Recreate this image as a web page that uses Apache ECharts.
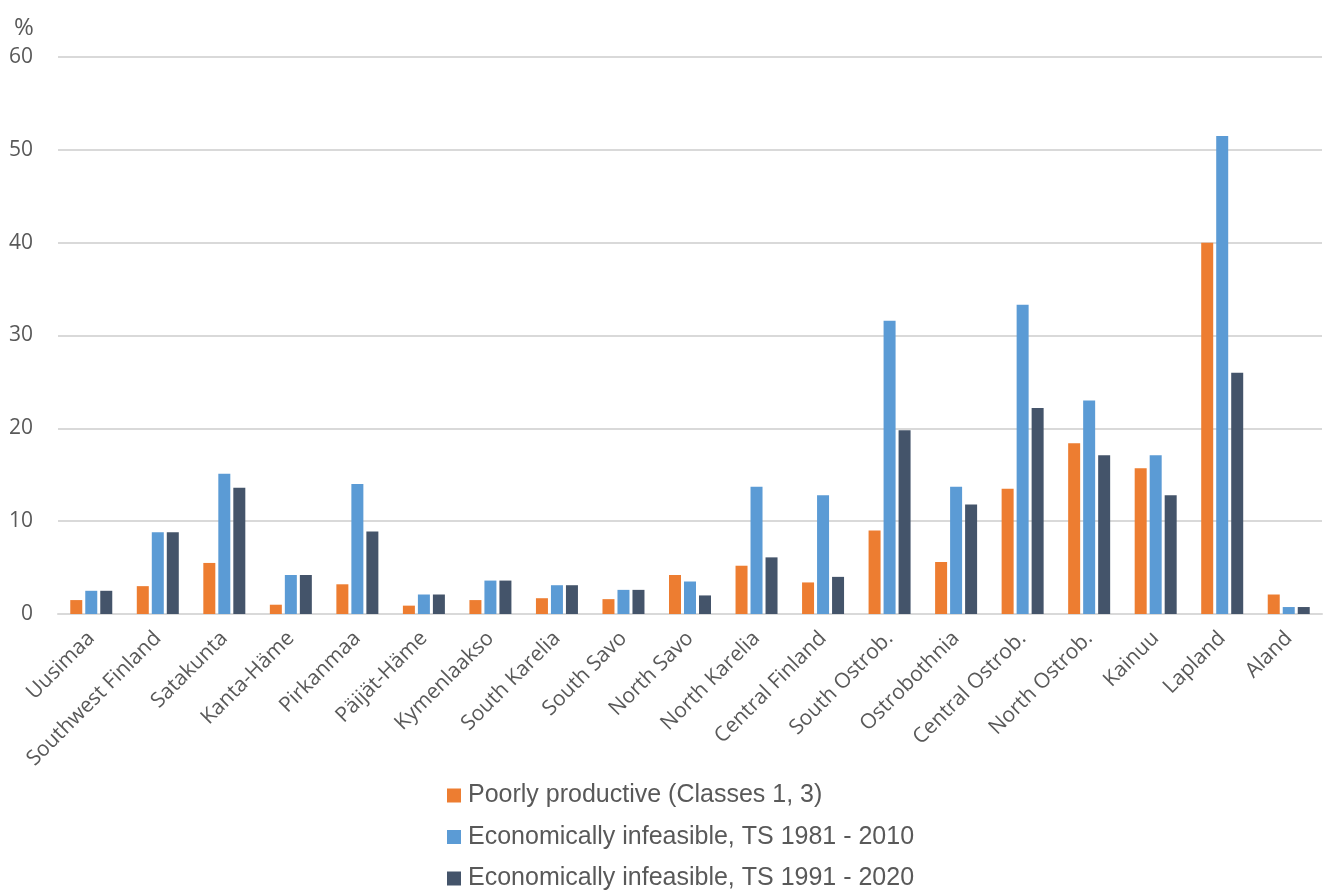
<!DOCTYPE html>
<html>
<head>
<meta charset="utf-8">
<script src="https://cdn.jsdelivr.net/npm/echarts@6/dist/echarts.min.js"></script>
<style>html,body{margin:0;padding:0;background:#fff;}#c{width:1323px;height:892px;}</style>
</head>
<body>
<div id="c"></div>
<script>
const categories = ["Uusimaa","Southwest Finland","Satakunta","Kanta-Häme","Pirkanmaa","Päijät-Häme","Kymenlaakso","South Karelia","South Savo","North Savo","North Karelia","Central Finland","South Ostrob.","Ostrobothnia","Central Ostrob.","North Ostrob.","Kainuu","Lapland","Aland"];
const poorlyProductive = [1.5,3.0,5.5,1.0,3.2,0.9,1.5,1.7,1.6,4.2,5.2,3.4,9.0,5.6,13.5,18.4,15.7,40.0,2.1];
const infeasible1981 = [2.5,8.8,15.1,4.2,14.0,2.1,3.6,3.1,2.6,3.5,13.7,12.8,31.6,13.7,33.3,23.0,17.1,51.5,0.75];
const infeasible1991 = [2.5,8.8,13.6,4.2,8.9,2.1,3.6,3.1,2.6,2.0,6.1,4.0,19.8,11.8,22.2,17.1,12.8,26.0,0.75];
const seriesNames = ["Poorly productive (Classes 1, 3)","Economically infeasible, TS 1981 - 2010","Economically infeasible, TS 1991 - 2020"];
const yTicks = {min:0,max:60,interval:10};

const chart = echarts.init(document.getElementById('c'));
const colors = ['#ED7D31','#5B9BD5','#44546A'];
const mk = (name, data, color) => ({
  name, type:'bar', data, barWidth:12, barGap:'25%',
  itemStyle:{color}
});
chart.setOption({
  animation:false,
  title:{text:'%', left:9, top:11, textStyle:{fontFamily:'Open Sans', fontSize:24, fontWeight:'normal', color:'#595959'}},
  grid:{left:58, right:1, top:57, bottom:278, containLabel:false},
  legend:{
    orient:'vertical', left:447, top:783, height:140, padding:0, itemWidth:14, itemHeight:14, itemGap:16.5,
    icon:'rect',
    textStyle:{fontFamily:'Liberation Sans', fontSize:25, color:'#595959', padding:[0,0,0,2]},
    data:seriesNames
  },
  xAxis:{
    type:'category', data:categories,
    axisLine:{lineStyle:{color:'#d9d9d9', width:2}},
    axisTick:{show:false},
    axisLabel:{interval:0, rotate:45, fontFamily:'Open Sans', fontSize:21, color:'#595959', margin:21}
  },
  yAxis:{
    type:'value', min:yTicks.min, max:yTicks.max, interval:yTicks.interval,
    axisLine:{show:false}, axisTick:{show:false},
    splitLine:{lineStyle:{color:'#d9d9d9', width:2}},
    axisLabel:{fontFamily:'Open Sans', fontSize:21, color:'#595959', margin:25}
  },
  series:[
    mk(seriesNames[0], poorlyProductive, colors[0]),
    mk(seriesNames[1], infeasible1981, colors[1]),
    mk(seriesNames[2], infeasible1991, colors[2])
  ]
});
</script>
</body>
</html>
